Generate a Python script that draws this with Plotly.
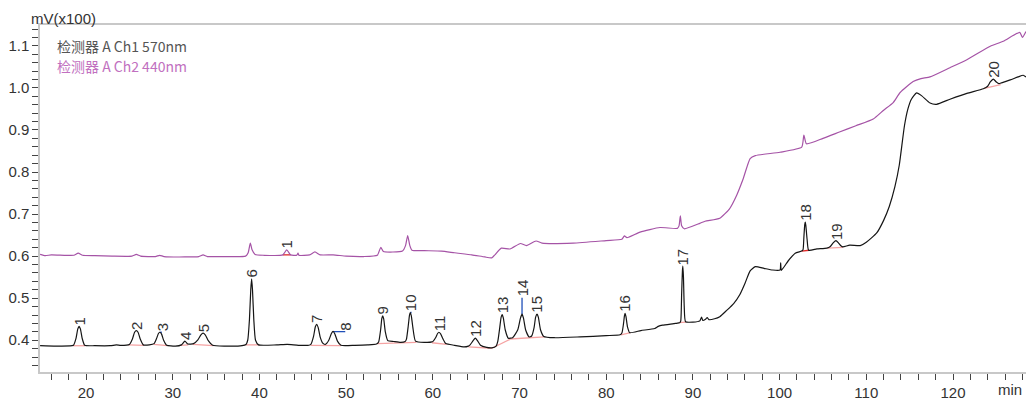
import plotly.graph_objects as go

# ---- Detector A Ch1 (570 nm): retention time (min) and signal (mV x100) ----
ch1_time = [
    14.7, 16.5, 18.4, 18.55, 18.85, 19.05, 19.2, 19.35, 19.55, 19.85, 21.0, 22.8, 23.5, 24.0,
    25.0, 25.35, 25.6, 25.8, 26.0, 26.25, 26.6, 27.3, 27.85, 28.15, 28.35, 28.5, 28.7, 28.95,
    29.3, 30.3, 31.0, 31.4, 31.75, 32.4, 32.9, 33.25, 33.5, 33.75, 34.1, 34.6, 36.0, 38.0,
    38.45, 38.65, 38.85, 39.0, 39.1, 39.2, 39.35, 39.55, 39.9, 42.0, 43.2, 44.5, 45.7, 45.95,
    46.25, 46.45, 46.6, 46.78, 47.0, 47.3, 47.6, 48.0, 48.3, 48.5, 48.7, 49.0, 49.4, 51.0,
    52.5, 53.5, 53.75, 53.98, 54.12, 54.22, 54.34, 54.52, 54.8, 55.5, 56.3, 56.8, 56.95,
    57.17, 57.31, 57.4, 57.52, 57.7, 58.0, 59.0, 59.9, 60.05, 60.35, 60.55, 60.7, 60.9,
    61.15, 61.5, 62.5, 63.6, 64.1, 64.3, 64.65, 64.9, 65.15, 65.5, 66.2, 66.8, 67.3, 67.5,
    67.72, 67.88, 68.0, 68.13, 68.35, 68.7, 69.2, 69.8, 70.1, 70.29, 70.45, 70.7, 71.1,
    71.4, 71.68, 71.86, 72.02, 72.17, 72.42, 72.8, 74.0, 77.0, 80.0, 81.6, 81.82, 82.0,
    82.1, 82.17, 82.28, 82.45, 82.7, 84.0, 85.6, 86.0, 86.5, 88.0, 88.5, 88.6, 88.7, 88.79,
    88.84, 88.91, 89.0, 89.15, 90.0, 90.8, 91.0, 91.15, 91.45, 91.65, 91.85, 92.5, 93.1,
    93.9, 94.7, 95.4, 96.0, 96.6, 97.2, 98.2, 99.2, 100.05, 100.12, 100.2, 101.0, 101.8,
    102.55, 102.7, 102.8, 102.9, 102.96, 103.03, 103.17, 103.35, 104.3, 105.45, 105.85,
    106.2, 106.5, 106.8, 107.1, 107.3, 108.1, 109.3, 110.0, 111.2, 112.0, 112.65, 113.3,
    113.8, 114.4, 114.8, 115.2, 115.8, 116.4, 117.35, 118.1, 119.65, 121.6, 123.5, 124.0,
    124.3, 124.65, 125.0, 125.3, 125.6, 126.6, 127.5, 128.1, 128.42,
]
ch1_signal = [
    0.387, 0.386, 0.387, 0.388, 0.405, 0.427, 0.433, 0.427, 0.405, 0.388, 0.387, 0.387, 0.389, 0.388,
    0.390, 0.403, 0.419, 0.423, 0.419, 0.403, 0.389, 0.389, 0.392, 0.405, 0.416, 0.419, 0.415, 0.400,
    0.388, 0.386, 0.389, 0.398, 0.391, 0.392, 0.401, 0.413, 0.417, 0.413, 0.399, 0.388, 0.386, 0.387,
    0.390, 0.400, 0.450, 0.520, 0.546, 0.520, 0.450, 0.400, 0.389, 0.389, 0.390, 0.388, 0.388, 0.391,
    0.410, 0.432, 0.438, 0.430, 0.408, 0.393, 0.390, 0.400, 0.416, 0.421, 0.415, 0.398, 0.388, 0.388,
    0.389, 0.391, 0.396, 0.425, 0.452, 0.458, 0.450, 0.420, 0.399, 0.397, 0.395, 0.397, 0.402,
    0.435, 0.460, 0.466, 0.458, 0.430, 0.398, 0.395, 0.396, 0.398, 0.407, 0.416, 0.419, 0.415,
    0.404, 0.392, 0.388, 0.384, 0.386, 0.389, 0.399, 0.405, 0.399, 0.388, 0.383, 0.382, 0.386, 0.398,
    0.430, 0.455, 0.461, 0.453, 0.425, 0.405, 0.406, 0.425, 0.452, 0.462, 0.453, 0.425, 0.408,
    0.410, 0.430, 0.455, 0.462, 0.455, 0.425, 0.409, 0.406, 0.408, 0.411, 0.413, 0.418, 0.440,
    0.458, 0.464, 0.456, 0.432, 0.418, 0.423, 0.428, 0.433, 0.436, 0.440, 0.442, 0.446, 0.510, 0.565,
    0.576, 0.550, 0.480, 0.444, 0.443, 0.446, 0.455, 0.447, 0.450, 0.454, 0.449, 0.451, 0.456,
    0.471, 0.487, 0.508, 0.535, 0.565, 0.575, 0.571, 0.567, 0.567, 0.584, 0.566, 0.589, 0.607,
    0.612, 0.615, 0.645, 0.675, 0.681, 0.672, 0.640, 0.614, 0.617, 0.619, 0.623,
    0.632, 0.637, 0.631, 0.624, 0.622, 0.626, 0.625, 0.633, 0.655, 0.685, 0.718, 0.765,
    0.816, 0.910, 0.950, 0.973, 0.988, 0.981, 0.964, 0.961, 0.973, 0.987, 0.998, 1.004,
    1.014, 1.021, 1.014, 1.010, 1.012, 1.019, 1.026, 1.030, 1.026,
]

# ---- Detector A Ch2 (440 nm) ----
ch2_time = [
    14.7, 15.3, 16.0, 17.5, 18.6, 19.1, 19.6, 21.0, 23.0, 25.3, 25.8, 26.3, 28.0, 28.5, 29.0,
    31.4, 33.0, 33.5, 34.0, 36.0, 38.4, 38.7, 38.95, 39.15, 39.5, 40.5, 42.7, 43.15, 43.6,
    44.3, 44.45, 44.55, 45.8, 46.4, 47.0, 48.5, 50.0, 52.0, 53.6, 54.0, 54.3, 56.5, 56.85,
    57.1, 57.35, 57.6, 59.0, 61.0, 62.5, 64.5, 66.0, 66.8, 67.9, 68.9, 70.1, 70.8, 71.9,
    72.6, 76.2, 80.0, 81.8, 82.1, 82.4, 83.9, 86.2, 88.2, 88.4, 88.55, 88.7, 89.0, 90.8,
    91.4, 93.1, 94.2, 95.05, 95.8, 96.6, 97.2, 100.05, 102.55, 102.8, 103.1, 105.0, 106.9,
    108.8, 110.8, 112.0, 113.1, 113.9, 115.4, 116.3, 117.35, 119.65, 121.6, 124.3, 125.8,
    127.7, 128.0, 128.42,
]
ch2_signal = [
    0.604, 0.601, 0.603, 0.602, 0.602, 0.607, 0.602, 0.601, 0.600, 0.600, 0.604, 0.600, 0.599, 0.602, 0.599,
    0.598, 0.599, 0.603, 0.599, 0.599, 0.600, 0.608, 0.631, 0.615, 0.604, 0.602, 0.603, 0.615, 0.603,
    0.602, 0.607, 0.602, 0.603, 0.610, 0.603, 0.603, 0.600, 0.599, 0.602, 0.621, 0.611, 0.612, 0.625,
    0.649, 0.625, 0.614, 0.613, 0.612, 0.608, 0.603, 0.598, 0.596, 0.619, 0.617, 0.630, 0.625, 0.636,
    0.631, 0.631, 0.637, 0.640, 0.648, 0.644, 0.657, 0.668, 0.666, 0.672, 0.696, 0.672, 0.665, 0.678,
    0.683, 0.690, 0.712, 0.745, 0.784, 0.832, 0.839, 0.847, 0.859, 0.888, 0.867, 0.880, 0.895,
    0.910, 0.926, 0.947, 0.965, 0.989, 1.015, 1.022, 1.026, 1.048, 1.067, 1.099, 1.111,
    1.132, 1.120, 1.134,
]

# ---- peak numbering (label anchor: retention time, top of mark) ----
ch1_peak_no = [str(i) for i in range(1, 21)]
ch1_peak_rt = [19.2, 25.8, 28.75, 31.4, 33.5, 39.1, 46.6, 49.9, 54.22, 57.5,
               60.7, 64.9, 68.0, 70.29, 72.02, 82.17, 88.84, 102.96, 106.5, 124.65]
ch1_peak_top = [0.433, 0.423, 0.419, 0.398, 0.417, 0.546, 0.438, 0.421, 0.458, 0.466,
                0.419, 0.405, 0.461, 0.501, 0.462, 0.464, 0.576, 0.681, 0.637, 1.021]
ch2_peak_no = ["1"]
ch2_peak_rt = [43.15]
ch2_peak_top = [0.615]

# ---- integration baselines drawn under detected peaks (t1, v1, t2, v2) ----
baseline_pink = [
    (18.5, 0.387, 19.9, 0.387), (24.9, 0.389, 26.7, 0.388), (27.8, 0.390, 29.4, 0.387),
    (30.9, 0.388, 31.8, 0.389), (32.3, 0.390, 34.7, 0.387), (38.4, 0.389, 40.0, 0.389),
    (45.9, 0.388, 49.4, 0.387), (53.6, 0.392, 58.1, 0.395), (59.9, 0.394, 61.6, 0.390),
    (64.1, 0.384, 66.8, 0.381), (66.8, 0.381, 68.9, 0.402), (68.9, 0.403, 72.9, 0.408),
    (81.7, 0.413, 82.8, 0.418), (88.4, 0.442, 89.2, 0.443), (105.5, 0.619, 107.3, 0.621),
    (123.6, 0.999, 125.5, 1.008),
]
baseline_red = [(42.7, 0.603, 43.6, 0.603), (102.55, 0.612, 103.4, 0.614)]
marker_blue = [(48.5, 0.4205, 49.9, 0.4205), (70.29, 0.462, 70.29, 0.501),
               (28.5, 0.419, 28.75, 0.419), (57.4, 0.466, 57.55, 0.466)]


def segments(segs):
    xs, ys = [], []
    for t1, v1, t2, v2 in segs:
        xs += [t1, t2, None]
        ys += [v1, v2, None]
    return xs, ys


fig = go.Figure()

for segs, color in ((baseline_pink, "#f5a3a3"), (baseline_red, "#e02a2a"), (marker_blue, "#1f4fb8")):
    sx, sy = segments(segs)
    fig.add_trace(go.Scatter(x=sx, y=sy, mode="lines", line=dict(color=color, width=1.3),
                             hoverinfo="skip"))

fig.add_trace(go.Scatter(x=ch2_time, y=ch2_signal, mode="lines", name="检测器 A Ch2 440nm",
                         line=dict(color="#a553a6", width=1.2, shape="spline", smoothing=0.5)))
fig.add_trace(go.Scatter(x=ch1_time, y=ch1_signal, mode="lines", name="检测器 A Ch1 570nm",
                         line=dict(color="#151515", width=1.2, shape="spline", smoothing=0.5)))

label_font = dict(family="Liberation Sans, Arial, sans-serif", size=15, color="#333333")
for no, rt, top in list(zip(ch1_peak_no, ch1_peak_rt, ch1_peak_top)) + \
        list(zip(ch2_peak_no, ch2_peak_rt, ch2_peak_top)):
    fig.add_annotation(x=rt, y=top, text=no, textangle=-90, showarrow=False,
                       xanchor="center", yanchor="bottom", font=label_font, borderpad=0)

legend_font = "Noto Sans CJK SC, Noto Sans, sans-serif"
fig.add_annotation(xref="paper", yref="paper", x=0.0152, y=0.94, text="检测器 A Ch1 570nm",
                   showarrow=False, xanchor="left", yanchor="middle",
                   font=dict(family=legend_font, size=14, color="#555555"))
fig.add_annotation(xref="paper", yref="paper", x=0.0152, y=0.881, text="检测器 A Ch2 440nm",
                   showarrow=False, xanchor="left", yanchor="middle",
                   font=dict(family=legend_font, size=14, color="#c170c0"))

axis_font = dict(family="Liberation Sans, Arial, sans-serif", size=15, color="#333333")
fig.add_annotation(xref="paper", yref="paper", x=-0.0115, y=1.018, text="mV(x100)",
                   showarrow=False, xanchor="left", yanchor="middle", font=axis_font)
fig.add_annotation(xref="paper", yref="paper", x=0.9838, y=-0.0514, text="min",
                   showarrow=False, xanchor="center", yanchor="middle", font=axis_font)

tick_style = dict(ticks="outside", ticklen=6, tickwidth=1, tickcolor="#444444")
fig.update_xaxes(range=[14.69, 128.42], tick0=0, dtick=10, showgrid=False, zeroline=False,
                 showline=True, linecolor="#c8c8c8", linewidth=1.5, mirror=True,
                 tickfont=axis_font, minor=dict(dtick=2, tick0=0, showgrid=False, **tick_style),
                 **tick_style)
fig.update_yaxes(range=[0.3245, 1.1495], tick0=0, dtick=0.1, tickformat=".1f", showgrid=False,
                 zeroline=False, showline=True, linecolor="#c8c8c8", linewidth=1.5,
                 tickfont=axis_font, minor=dict(dtick=0.02, tick0=0, showgrid=False, **tick_style),
                 **tick_style)

fig.update_layout(width=1026, height=401, margin=dict(l=40, r=0, t=25, b=26),
                  plot_bgcolor="white", paper_bgcolor="white", showlegend=False)

fig.write_html("out.html")
